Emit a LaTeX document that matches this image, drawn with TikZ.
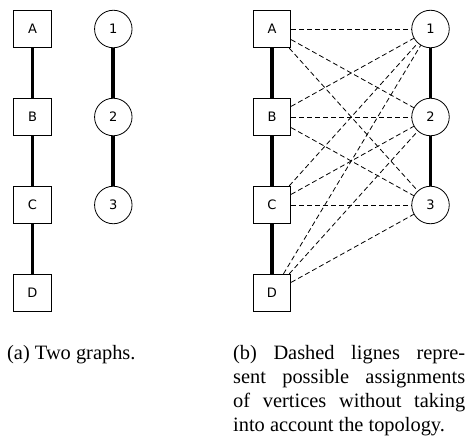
\documentclass[tikz,border=0pt]{standalone}
\usepackage{fontspec}
\setmainfont{Liberation Serif}
\newfontfamily\lblfont{DejaVu Sans}
\begin{document}
\begin{tikzpicture}[x=1pt,y=-1pt,
  sq/.style={draw,line width=0.8pt,minimum size=37.5pt,inner sep=0pt,font=\lblfont\fontsize{13}{15}\selectfont,fill=white},
  rd/.style={draw,circle,line width=0.8pt,minimum size=37.5pt,inner sep=0pt,font=\lblfont\fontsize{13}{15}\selectfont,fill=white},
  edgethick/.style={line width=3.7pt},
  assign/.style={line width=0.8pt,dash pattern=on 5pt off 3pt},
  captext/.style={font=\fontsize{20.4}{24}\selectfont,inner sep=0pt,anchor=base west}
]
\useasboundingbox (0,0) rectangle (468,441);
% (a)
\node[sq] (a1) at (32.5,29) {A};
\node[sq] (b1) at (32.5,117) {B};
\node[sq] (c1) at (32.5,205) {C};
\node[sq] (d1) at (32.5,293) {D};
\node[rd] (n11) at (113.3,29) {1};
\node[rd] (n21) at (113.3,117) {2};
\node[rd] (n31) at (113.3,205) {3};
\draw[edgethick] (a1) -- (b1);
\draw[edgethick] (b1) -- (c1);
\draw[edgethick] (c1) -- (d1);
\draw[edgethick] (n11) -- (n21);
\draw[edgethick] (n21) -- (n31);
% (b)
\node[sq] (a2) at (272,29) {A};
\node[sq] (b2) at (272,117) {B};
\node[sq] (c2) at (272,205) {C};
\node[sq] (d2) at (272,293) {D};
\node[rd] (n12) at (430.5,29) {1};
\node[rd] (n22) at (430.5,117) {2};
\node[rd] (n32) at (430.5,205) {3};
\draw[edgethick] (a2) -- (b2);
\draw[edgethick] (b2) -- (c2);
\draw[edgethick] (c2) -- (d2);
\draw[edgethick] (n12) -- (n22);
\draw[edgethick] (n22) -- (n32);
\foreach \s in {a2,b2,c2,d2}{
  \foreach \t in {n12,n22,n32}{
    \draw[assign] (\s) -- (\t);
  }
}
% captions
\node[captext] (capa) at (7,359) {(a) Two graphs.};
\node[captext] (capb1) at (233,359) {\makebox[232pt][s]{(b) Dashed lignes repre-}};
\node[captext] (capb2) at (233,383) {\makebox[232pt][s]{sent possible assignments}};
\node[captext] (capb3) at (233,407) {\makebox[232pt][s]{of vertices without taking}};
\node[captext] (capb4) at (233,431) {into account the topology.};
\end{tikzpicture}
\end{document}
